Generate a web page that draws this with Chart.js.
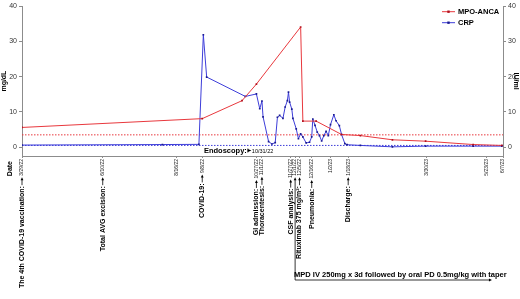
<!DOCTYPE html>
<html lang="en">
<head>
<meta charset="UTF-8">
<title>MPO-ANCA and CRP</title>
<style>
  html, body { margin: 0; padding: 0; background: #fff; }
  #chart { display: block; }
</style>
</head>
<body>
<canvas id="chart" width="520" height="299"></canvas>
<script src="https://cdn.jsdelivr.net/npm/chart.js@4"></script>
<script>
const FONT = '"Liberation Sans", Arial, sans-serif';

// MPO-ANCA (IU/ml, right axis)
const mpoDates = ['3/29/22', '9/8/22', '10/14/22', '10/27/22', '12/6/22', '12/8/22', '12/20/22',
  '1/12/23', '1/29/23', '2/27/23', '3/29/23', '5/11/23', '6/6/23'];
const mpoValues = [5.6, 8.1, 13.2, 17.9, 34.1, 7.4, 7.4, 3.6, 3.3, 2.1, 1.7, 0.75, 0.5];

// CRP (mg/dL, left axis)
const crpDates = ['3/29/22', '8/3/22', '9/5/22', '9/9/22', '9/12/22', '10/17/22', '10/27/22', '10/30/22',
  '11/1/22', '11/2/22', '11/7/22', '11/10/22', '11/13/22', '11/15/22', '11/17/22', '11/20/22',
  '11/22/22', '11/24/22', '11/25/22', '11/26/22', '11/28/22', '11/29/22', '12/2/22', '12/4/22',
  '12/6/22', '12/8/22', '12/11/22', '12/14/22', '12/16/22', '12/17/22', '12/19/22', '12/21/22',
  '12/23/22', '12/25/22', '12/27/22', '12/29/22', '12/31/22', '1/2/23', '1/5/23', '1/7/23',
  '1/10/23', '1/12/23', '1/15/23', '1/17/23', '1/29/23', '2/27/23', '3/29/23', '5/11/23', '6/6/23'];
const crpValues = [0.6, 0.75, 0.8, 31.9, 19.9, 14.4, 15.1, 10.9,
  13.1, 8.6, 1.6, 0.9, 1.3, 8.5, 9.0, 8.2,
  11.4, 13.2, 15.6, 12.8, 10.8, 8.2, 5.2, 2.4,
  3.8, 2.9, 1.2, 1.4, 2.9, 8.0, 6.2, 4.3,
  3.3, 1.75, 3.3, 4.5, 3.3, 6.4, 9.2, 7.5,
  6.1, 3.6, 1.0, 0.7, 0.5, 0.1, 0.3, 0.3, 0.3];

const mpoCutoff = 3.5;
const crpCutoff = 0.5;

const yTicks = [0, 10, 20, 30, 40];
const tickDates = ['3/29/22', '6/10/22', '8/16/22', '9/8/22', '10/27/22', '11/1/22', '11/27/22', '12/1/22',
  '12/5/22', '12/16/22', '1/2/23', '1/18/23', '3/30/23', '5/23/23', '6/7/23'];
const tickNotes = ['The 4th COVID-19 vaccination:', 'Total AVG excision:', '', 'COVID-19:', 'GI admission:',
  'Thoracentesis:', 'CSF analysis:', '', 'Rituximab 375 mg/m²:', 'Pneumonia:', '', 'Discharge:', '', '', ''];

const endoscopyDate = '10/31/22';
const mpdStart = '12/1/22';
const mpdEnd = '5/28/23';
const mpdText = 'MPD IV 250mg x 3d followed by oral PD 0.5mg/kg with taper';

const START = Date.UTC(2022, 2, 29);
function day(s) {
  const [m, d, y] = s.split('/').map(Number);
  return Math.round((Date.UTC(2000 + y, m - 1, d) - START) / 864e5);
}
const lastDay = day(tickDates[tickDates.length - 1]);

const RED = '#e8383d';
const BLUE = '#3d3dd9';
const DATE_FONT = 5;
const NOTE_FONT = 7;

function arrowUp(ctx, x, yTop, yBot) {
  ctx.beginPath();
  ctx.moveTo(x, yBot);
  ctx.lineTo(x, yTop + 2);
  ctx.stroke();
  ctx.beginPath();
  ctx.moveTo(x, yTop);
  ctx.lineTo(x - 1.4, yTop + 3);
  ctx.lineTo(x + 1.4, yTop + 3);
  ctx.closePath();
  ctx.fill();
}

const notesPlugin = {
  id: 'notes',
  afterDraw(chart) {
    const { ctx, scales: { x } } = chart;
    ctx.save();
    ctx.fillStyle = '#000';
    ctx.strokeStyle = '#000';
    ctx.lineWidth = 0.8;
    const labelTop = x.top + 2 + 1;
    tickDates.forEach((d, i) => {
      const px = x.getPixelForValue(day(d));
      ctx.font = `${DATE_FONT}px ${FONT}`;
      const w = ctx.measureText(d).width;
      const a0 = labelTop + w + 1.5;
      if (tickNotes[i]) {
        arrowUp(ctx, px, a0, a0 + 8);
        ctx.save();
        ctx.translate(px, a0 + 9);
        ctx.rotate(-Math.PI / 2);
        ctx.font = `bold ${NOTE_FONT}px ${FONT}`;
        ctx.textAlign = 'right';
        ctx.textBaseline = 'middle';
        ctx.fillText(tickNotes[i], 0, 0);
        ctx.restore();
      }
      if (d === mpdStart) {
        const yLine = 280;
        arrowUp(ctx, px, a0, yLine);
        ctx.font = `bold 7.5px ${FONT}`;
        ctx.textAlign = 'left';
        ctx.textBaseline = 'alphabetic';
        ctx.fillText(mpdText, px - 1, yLine - 3);
        const xe = x.getPixelForValue(day(mpdEnd));
        ctx.beginPath();
        ctx.moveTo(px, yLine);
        ctx.lineTo(xe - 2, yLine);
        ctx.stroke();
        ctx.beginPath();
        ctx.moveTo(xe, yLine);
        ctx.lineTo(xe - 3, yLine - 1.4);
        ctx.lineTo(xe - 3, yLine + 1.4);
        ctx.closePath();
        ctx.fill();
      }
    });

    // x axis title
    ctx.save();
    ctx.translate(10, 161);
    ctx.rotate(-Math.PI / 2);
    ctx.font = `bold ${NOTE_FONT}px ${FONT}`;
    ctx.textAlign = 'right';
    ctx.textBaseline = 'middle';
    ctx.fillText('Date', 0, 0);
    ctx.restore();

    // endoscopy label
    const ex = x.getPixelForValue(day(endoscopyDate));
    const ey = 150.5;
    ctx.font = `bold 7.5px ${FONT}`;
    ctx.textAlign = 'right';
    ctx.textBaseline = 'middle';
    ctx.fillText('Endoscopy:', ex - 14, ey);
    ctx.beginPath();
    ctx.moveTo(ex - 13, ey - 2);
    ctx.lineTo(ex - 13, ey + 2);
    ctx.stroke();
    ctx.beginPath();
    ctx.moveTo(ex - 13, ey - 1.6);
    ctx.lineTo(ex - 9.5, ey);
    ctx.lineTo(ex - 13, ey + 1.6);
    ctx.closePath();
    ctx.fill();
    ctx.font = `5.5px ${FONT}`;
    ctx.textAlign = 'left';
    ctx.fillText(endoscopyDate, ex - 9, ey + 0.5);

    // legend
    chart.data.datasets.slice(0, 2).forEach((ds, i) => {
      const ly = 11.7 + i * 11;
      ctx.strokeStyle = ds.borderColor;
      ctx.lineWidth = 1;
      ctx.beginPath();
      ctx.moveTo(442, ly);
      ctx.lineTo(455, ly);
      ctx.stroke();
      ctx.fillStyle = ds.pointBackgroundColor;
      ctx.fillRect(447.3, ly - 1.2, 2.4, 2.4);
      ctx.fillStyle = '#000';
      ctx.font = `bold 7.5px ${FONT}`;
      ctx.textAlign = 'left';
      ctx.textBaseline = 'middle';
      ctx.fillText(ds.label, 458, ly);
    });
    ctx.restore();
  }
};

const axisGrey = '#8c8c8c';

new Chart(document.getElementById('chart'), {
  type: 'line',
  data: {
    datasets: [
      {
        label: 'MPO-ANCA',
        data: mpoDates.map((d, i) => ({ x: day(d), y: mpoValues[i] })),
        yAxisID: 'y1',
        borderColor: RED,
        borderWidth: 1,
        pointStyle: 'rect',
        pointRadius: 1.2,
        pointBackgroundColor: '#b0101e',
        pointBorderWidth: 0
      },
      {
        label: 'CRP',
        data: crpDates.map((d, i) => ({ x: day(d), y: crpValues[i] })),
        yAxisID: 'y',
        borderColor: BLUE,
        borderWidth: 1,
        pointStyle: 'rect',
        pointRadius: 1.2,
        pointBackgroundColor: '#1a1a90',
        pointBorderWidth: 0
      },
      {
        label: 'MPO-ANCA cutoff',
        data: [{ x: 0, y: mpoCutoff }, { x: lastDay, y: mpoCutoff }],
        yAxisID: 'y1',
        borderColor: RED,
        borderWidth: 1,
        borderDash: [1.5, 1.5],
        pointRadius: 0
      },
      {
        label: 'CRP cutoff',
        data: [{ x: 0, y: crpCutoff }, { x: lastDay, y: crpCutoff }],
        yAxisID: 'y',
        borderColor: BLUE,
        borderWidth: 1,
        borderDash: [1.5, 1.5],
        pointRadius: 0
      }
    ]
  },
  options: {
    responsive: false,
    animation: false,
    layout: { padding: { top: 3, left: 0, right: 0, bottom: 0 } },
    plugins: { legend: { display: false }, tooltip: { enabled: false } },
    scales: {
      x: {
        type: 'linear',
        min: 0,
        max: lastDay,
        afterBuildTicks: s => { s.ticks = tickDates.map(d => ({ value: day(d) })); },
        afterFit: s => { s.height = 143; },
        border: { color: axisGrey, width: 1 },
        grid: { drawOnChartArea: false, tickLength: 2, color: axisGrey },
        ticks: {
          autoSkip: false, maxRotation: 90, minRotation: 90, padding: 1,
          color: '#222', font: { size: DATE_FONT, family: FONT },
          callback: (v, i) => tickDates[i]
        }
      },
      y: {
        position: 'left',
        min: -2.5,
        max: 40,
        afterBuildTicks: s => { s.ticks = yTicks.map(v => ({ value: v })); },
        afterFit: s => { s.width = 22; },
        border: { color: axisGrey, width: 1 },
        grid: { drawOnChartArea: false, tickLength: 3, color: axisGrey },
        ticks: { color: '#333', padding: 2, font: { size: 7, family: FONT } },
        title: { display: true, text: 'mg/dL', color: '#000', padding: 0, font: { size: 7, weight: 'bold', family: FONT } }
      },
      y1: {
        position: 'right',
        min: -2.5,
        max: 40,
        afterBuildTicks: s => { s.ticks = yTicks.map(v => ({ value: v })); },
        afterFit: s => { s.width = 17; },
        border: { color: axisGrey, width: 1 },
        grid: { drawOnChartArea: false, tickLength: 3, color: axisGrey },
        ticks: { color: '#333', padding: 2, font: { size: 7, family: FONT } },
        title: { display: true, text: 'IU/ml', color: '#000', padding: 0, font: { size: 7, weight: 'bold', family: FONT } }
      }
    }
  },
  plugins: [notesPlugin]
});
</script>
</body>
</html>
